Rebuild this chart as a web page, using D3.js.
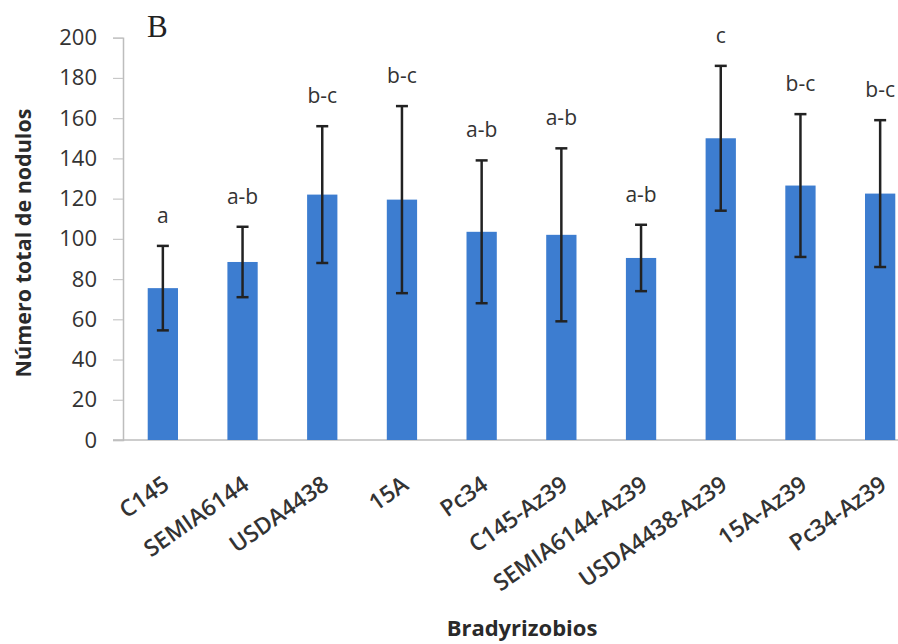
<!DOCTYPE html>
<html>
<head>
<meta charset="utf-8">
<script src="https://cdn.jsdelivr.net/npm/d3@7"></script>
<style>
  body { margin: 0; background: #fff; }
  svg { display: block; }
</style>
</head>
<body>
<div id="chart"></div>
<script>
const strains = ['C145', 'SEMIA6144', 'USDA4438', '15A', 'Pc34',
    'C145-Az39', 'SEMIA6144-Az39', 'USDA4438-Az39', '15A-Az39', 'Pc34-Az39'];
const meanNodules = [75.5, 88.5, 122, 119.5, 103.5, 102, 90.5, 150, 126.5, 122.5];
const errNodules = [21, 17.5, 34, 46.5, 35.5, 43, 16.5, 36, 35.5, 36.5];
const groups = ['a', 'a-b', 'b-c', 'b-c', 'a-b', 'a-b', 'a-b', 'c', 'b-c', 'b-c'];
const yTicks = [0, 20, 40, 60, 80, 100, 120, 140, 160, 180, 200];

const width = 898;
const height = 644;
const plotLeft = 123;
const plotBottom = 440;
const plotTop = 37.7;

const svg = d3.select('#chart')
    .append('svg')
    .attr('width', width)
    .attr('height', height)

const x = d3.scaleBand()
    .domain(strains)
    .range([plotLeft, plotLeft + 797])
    .paddingInner(0.62)
    .paddingOuter(0.31)

const y = d3.scaleLinear()
    .domain([0, 200])
    .range([plotBottom, plotTop])

// y axis
const yAxis = svg.append('g')
    .attr('transform', `translate(${plotLeft},0)`)
    .call(d3.axisLeft(y).tickValues(yTicks).tickSize(10).tickPadding(16))
yAxis.select('.domain').attr('stroke', '#bdbdbd').attr('stroke-width', 1.5)
yAxis.selectAll('.tick line').attr('stroke', '#c8c8c8').attr('stroke-width', 1.2)
yAxis.selectAll('.tick text')
    .style('font-family', '"Open Sans", sans-serif')
    .style('font-size', '22px')
    .attr('fill', '#333')

// x axis baseline
svg.append('line')
    .attr('x1', plotLeft - 10)
    .attr('x2', width)
    .attr('y1', y(0))
    .attr('y2', y(0))
    .attr('stroke', '#bdbdbd')
    .attr('stroke-width', 1.5)

const data = strains.map((s, i) => ({ name: s, mean: meanNodules[i], err: errNodules[i], grp: groups[i] }));

svg.selectAll('rect.bar')
    .data(data)
    .join('rect')
    .attr('class', 'bar')
    .attr('x', d => x(d.name))
    .attr('width', x.bandwidth())
    .attr('y', d => y(d.mean))
    .attr('height', d => y(0) - y(d.mean))
    .attr('fill', '#3d7dd0')

const eb = svg.selectAll('g.err')
    .data(data)
    .join('g')
    .attr('class', 'err')
    .attr('stroke', '#222')
    .attr('stroke-width', 2.5)

eb.append('line')
    .attr('x1', d => x(d.name) + x.bandwidth() / 2)
    .attr('x2', d => x(d.name) + x.bandwidth() / 2)
    .attr('y1', d => y(d.mean + d.err))
    .attr('y2', d => y(d.mean - d.err))
eb.append('line')
    .attr('x1', d => x(d.name) + x.bandwidth() / 2 - 6)
    .attr('x2', d => x(d.name) + x.bandwidth() / 2 + 6)
    .attr('y1', d => y(d.mean + d.err))
    .attr('y2', d => y(d.mean + d.err))
eb.append('line')
    .attr('x1', d => x(d.name) + x.bandwidth() / 2 - 6)
    .attr('x2', d => x(d.name) + x.bandwidth() / 2 + 6)
    .attr('y1', d => y(d.mean - d.err))
    .attr('y2', d => y(d.mean - d.err))

// significance letters
svg.selectAll('text.grp')
    .data(data)
    .join('text')
    .attr('class', 'grp')
    .attr('x', d => x(d.name) + x.bandwidth() / 2)
    .attr('y', d => y(d.mean + d.err) - 23)
    .attr('text-anchor', 'middle')
    .style('font-family', '"Open Sans", sans-serif')
    .style('font-size', '21px')
    .attr('fill', '#333')
    .text(d => d.grp)

// x tick labels
svg.selectAll('text.xlab')
    .data(strains)
    .join('text')
    .attr('class', 'xlab')
    .attr('text-anchor', 'end')
    .attr('transform', d => `translate(${x(d) + x.bandwidth() / 2 + 8},${plotBottom + 48}) rotate(-35)`)
    .style('font-family', '"Open Sans", sans-serif')
    .style('font-size', '23px')
    .style('font-weight', 600)
    .attr('fill', '#333')
    .text(d => d)

// panel letter
svg.append('text')
    .attr('x', 147)
    .attr('y', 37)
    .style('font-family', '"Liberation Serif", serif')
    .style('font-size', '31px')
    .attr('fill', '#222')
    .text('B')

// axis titles
svg.append('text')
    .attr('transform', 'translate(31,243) rotate(-90)')
    .attr('text-anchor', 'middle')
    .style('font-family', '"Open Sans", sans-serif')
    .style('font-weight', 'bold')
    .style('font-size', '21.5px')
    .attr('fill', '#2a2a2a')
    .text('Número total  de nodulos')

svg.append('text')
    .attr('x', 522)
    .attr('y', 636)
    .attr('text-anchor', 'middle')
    .style('font-family', '"Open Sans", sans-serif')
    .style('font-weight', 'bold')
    .style('font-size', '22px')
    .attr('fill', '#2a2a2a')
    .text('Bradyrizobios')
</script>
</body>
</html>
